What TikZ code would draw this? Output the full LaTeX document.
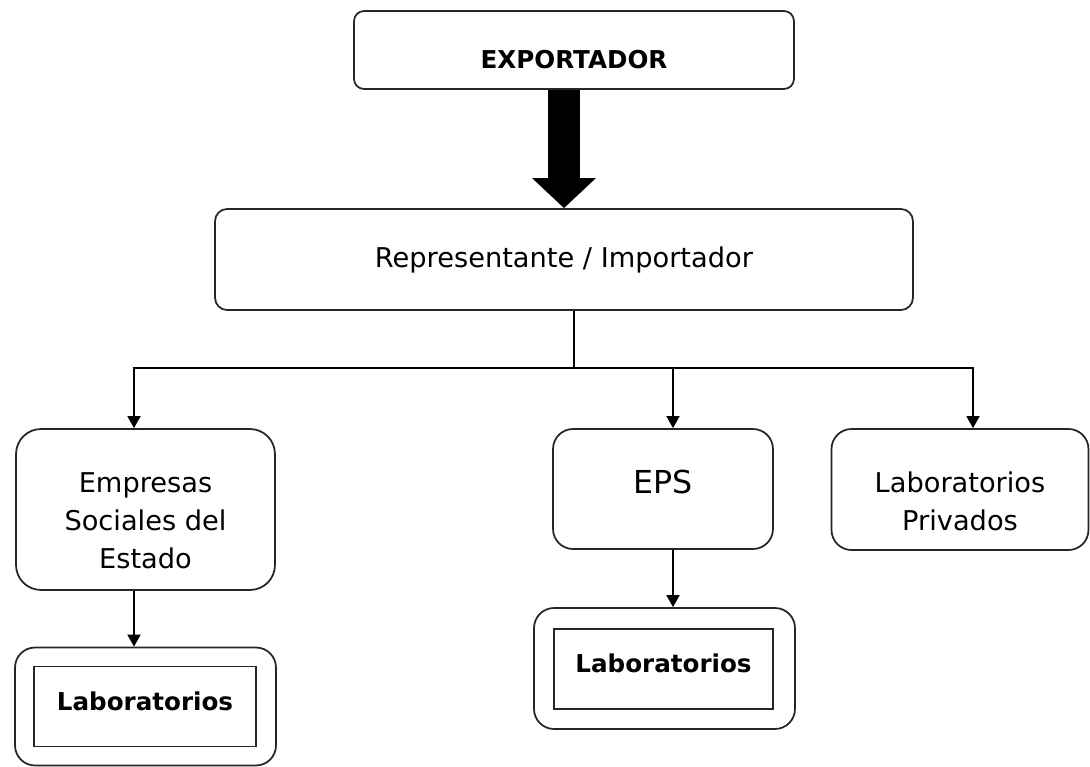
\documentclass[tikz,border=0pt]{standalone}
\usepackage{fontspec}
\setmainfont{DejaVu Sans}
\usepackage{tikz}
\usetikzlibrary{positioning, arrows.meta, calc}

% struts to move a text up or down inside its box
\newcommand{\bajar}[1]{\rule{0pt}{#1}}
\newcommand{\subir}[1]{\rule[-#1]{0pt}{#1}}

\tikzset{
	caja/.style={draw=black!85, line width=1pt, align=center, inner sep=2pt},
	punta/.style={draw=black, line width=1pt, -{Triangle[length=0.24cm,width=0.26cm]}},
	flecha/.style={draw=black, line width=0.64cm, -{Triangle[length=0.6cm,width=1.24cm]}}
}

\begin{document}
\begin{tikzpicture}[x=0.02cm, y=-0.02cm]
	\fontsize{15.5}{21.6}\selectfont
	\useasboundingbox (0,0) rectangle (1090,767);
	
	% Top of the chain
	\node[caja, rounded corners=0.2cm, minimum width=8.8cm, minimum height=1.56cm] (exportador) at (574,50) {\fontsize{14}{20}\selectfont\bajar{0.73cm}\textbf{EXPORTADOR}};
	\node[caja, rounded corners=0.24cm, minimum width=13.96cm, minimum height=2.02cm] (representante) at (564,259.5) {Representante / Importador};
	
	% Second level
	\node[caja, rounded corners=0.5cm, minimum width=5.18cm, minimum height=3.22cm] (ese) at (145.5,509.5) {\bajar{0.85cm}Empresas\\Sociales del\\Estado};
	\node[caja, rounded corners=0.4cm, minimum width=4.4cm, minimum height=2.4cm] (eps) at (663,489) {\fontsize{18}{22}\selectfont EPS\subir{0.28cm}};
	\node[caja, rounded corners=0.4cm, minimum width=5.14cm, minimum height=2.42cm] (privados) at (960,489.5) {\bajar{0.89cm}Laboratorios\\Privados};
	
	% Laboratorios (double frame)
	\node[caja, rounded corners=0.4cm, minimum width=5.22cm, minimum height=2.36cm] (labese) at (145.5,706.5) {};
	\node[caja, minimum width=4.44cm, minimum height=1.6cm] (labesein) at (145,706.5) {\fontsize{14}{20}\selectfont\textbf{Laboratorios}\subir{0.2cm}};
	\node[caja, rounded corners=0.4cm, minimum width=5.22cm, minimum height=2.42cm] (labeps) at (664.5,668.5) {};
	\node[caja, minimum width=4.38cm, minimum height=1.6cm] (labepsin) at (663.5,669) {\fontsize{14}{20}\selectfont\textbf{Laboratorios}\subir{0.24cm}};
	
	% Thick arrow
	\draw[flecha] (exportador.south -| representante.north) -- (representante.north);
	
	% Branches
	\coordinate (split) at (574,368);
	\draw[line width=1pt] (split |- representante.south) -- (split);
	\draw[punta] (split) -| ([xshift=-0.23cm]ese.north);
	\draw[punta] (split) -| ([xshift=0.2cm]eps.north);
	\draw[punta] (split) -| ([xshift=0.26cm]privados.north);
	
	% Down to the laboratorios
	\draw[punta] ([xshift=-0.23cm]ese.south) -- ([xshift=-0.23cm]ese.south |- labese.north);
	\draw[punta] ([xshift=0.2cm]eps.south) -- ([xshift=0.2cm]eps.south |- labeps.north);
	
\end{tikzpicture}
\end{document}
